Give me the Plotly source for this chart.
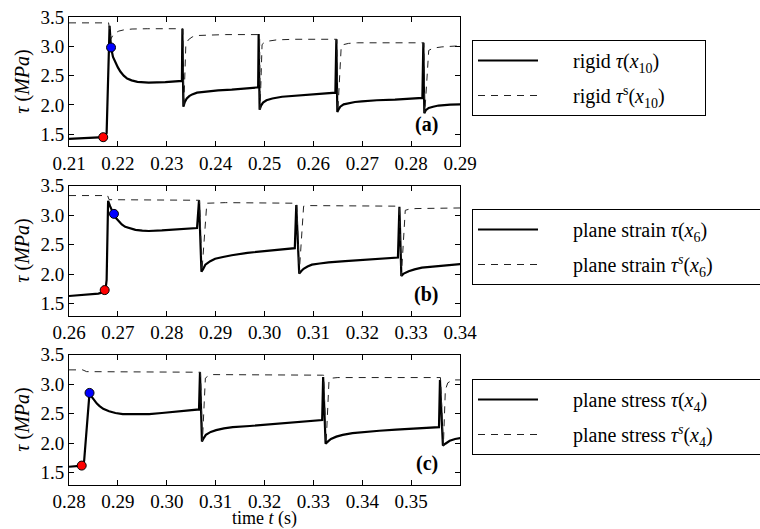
import plotly.graph_objects as go

# ---------------- data ----------------
# Panel (a): rigid, x10
t_a = [0.2100, 0.2130, 0.2160, 0.2171, 0.2177, 0.2180, 0.2182, 0.2183, 0.2185, 0.2186,
       0.2190, 0.2195, 0.2200, 0.2205, 0.2212, 0.2219, 0.2228, 0.2240, 0.2263, 0.2297,
       0.2331, 0.2332, 0.2334, 0.2337, 0.2341, 0.2346, 0.2352, 0.2362, 0.2379, 0.2405,
       0.2433, 0.2460, 0.2487, 0.2488, 0.2490, 0.2493, 0.2497, 0.2504, 0.2516, 0.2536,
       0.2577, 0.2610, 0.2645, 0.2647, 0.2649, 0.2652, 0.2655, 0.2662, 0.2672, 0.2685,
       0.2699, 0.2730, 0.2767, 0.2800, 0.2823, 0.2825, 0.2827, 0.2830, 0.2836, 0.2845,
       0.2856, 0.2880, 0.2902]
tau_a = [1.42, 1.43, 1.44, 1.45, 1.52, 2.40, 3.20, 3.35, 3.10, 2.98,
         2.82, 2.72, 2.64, 2.57, 2.50, 2.45, 2.42, 2.395, 2.38, 2.39,
         2.41, 3.30, 1.97, 2.05, 2.11, 2.15, 2.18, 2.21, 2.23, 2.25,
         2.26, 2.28, 2.30, 3.21, 1.92, 1.99, 2.04, 2.08, 2.11, 2.14,
         2.17, 2.19, 2.21, 3.12, 1.88, 1.93, 1.97, 2.01, 2.03, 2.05,
         2.06, 2.08, 2.09, 2.11, 2.12, 3.06, 1.86, 1.91, 1.95, 1.97,
         1.99, 2.005, 2.01]
t_a_s = [0.2100, 0.2181, 0.2186, 0.2190, 0.2195, 0.2202, 0.2212, 0.2229, 0.2260, 0.2331,
         0.2333, 0.2335, 0.2339, 0.2344, 0.2352, 0.2365, 0.2379, 0.2420, 0.2488,
         0.2490, 0.2491, 0.2495, 0.2500, 0.2509, 0.2525, 0.2560, 0.2646,
         0.2648, 0.2650, 0.2657, 0.2662, 0.2672, 0.2690, 0.2825,
         0.2826, 0.2828, 0.2836, 0.2845, 0.2863, 0.2902]
tau_a_s = [3.40, 3.40, 3.13, 3.19, 3.23, 3.26, 3.28, 3.295, 3.30, 3.30,
           3.30, 1.99, 3.02, 3.11, 3.16, 3.185, 3.19, 3.20, 3.20,
           3.20, 1.93, 3.03, 3.07, 3.09, 3.11, 3.12, 3.12,
           3.12, 1.89, 3.00, 3.03, 3.05, 3.06, 3.06,
           3.06, 1.87, 2.93, 2.97, 2.99, 3.01]
mark_t_a = [0.2170, 0.2186]
mark_tau_a = [1.45, 2.98]

# Panel (b): plane strain, x6
t_b = [0.2600, 0.2630, 0.2660, 0.2673, 0.2675, 0.2677, 0.2678, 0.2680, 0.2684, 0.2688,
       0.2692, 0.2697, 0.2702, 0.2708, 0.2715, 0.2725, 0.2736, 0.2750, 0.2763, 0.2790,
       0.2811, 0.2840, 0.2862, 0.2866, 0.2869, 0.2871, 0.2874, 0.2879, 0.2889, 0.2899,
       0.2915, 0.2933, 0.2965, 0.3000, 0.3030, 0.3062, 0.3065, 0.3068, 0.3071, 0.3075,
       0.3080, 0.3088, 0.3097, 0.3113, 0.3131, 0.3165, 0.3200, 0.3240, 0.3273, 0.3276,
       0.3278, 0.3280, 0.3285, 0.3295, 0.3307, 0.3322, 0.3350, 0.3375, 0.3402]
tau_b = [1.63, 1.65, 1.67, 1.70, 1.76, 1.90, 2.60, 3.24, 3.15, 3.06,
         3.00, 2.94, 2.89, 2.84, 2.80, 2.77, 2.75, 2.735, 2.73, 2.74,
         2.75, 2.76, 2.78, 3.25, 2.30, 2.04, 2.08, 2.16, 2.22, 2.26,
         2.29, 2.32, 2.36, 2.39, 2.41, 2.44, 3.17, 2.40, 2.01, 2.05,
         2.09, 2.13, 2.16, 2.18, 2.20, 2.22, 2.24, 2.26, 2.28, 3.14,
         2.40, 1.97, 2.01, 2.05, 2.08, 2.11, 2.13, 2.15, 2.17]
t_b_s = [0.2600, 0.2679, 0.2682, 0.2862, 0.2867, 0.2872, 0.2882, 0.2920, 0.3064,
         0.3066, 0.3071, 0.3080, 0.3090, 0.3274,
         0.3276, 0.3280, 0.3288, 0.3296, 0.3310, 0.3402]
tau_b_s = [3.33, 3.33, 3.26, 3.25, 3.25, 2.05, 3.20, 3.21, 3.20,
           3.20, 2.01, 3.15, 3.16, 3.15,
           3.15, 1.97, 3.08, 3.10, 3.11, 3.12]
mark_t_b = [0.2673, 0.2692]
mark_tau_b = [1.73, 3.02]

# Panel (c): plane stress, x4
t_c = [0.2800, 0.2815, 0.2827, 0.2831, 0.2836, 0.2840, 0.2842, 0.2847, 0.2852, 0.2857,
       0.2862, 0.2870, 0.2882, 0.2895, 0.2910, 0.2940, 0.2964, 0.2990, 0.3019, 0.3045,
       0.3066, 0.3068, 0.3070, 0.3072, 0.3076, 0.3080, 0.3090, 0.3101, 0.3117, 0.3135,
       0.3170, 0.3201, 0.3235, 0.3265, 0.3300, 0.3318, 0.3320, 0.3323, 0.3325, 0.3330,
       0.3336, 0.3347, 0.3360, 0.3380, 0.3401, 0.3435, 0.3469, 0.3510, 0.3557, 0.3559,
       0.3562, 0.3565, 0.3570, 0.3579, 0.3590, 0.3604]
tau_c = [1.60, 1.61, 1.62, 1.70, 2.30, 2.77, 2.85, 2.78, 2.72, 2.67,
         2.63, 2.58, 2.54, 2.51, 2.49, 2.485, 2.49, 2.51, 2.53, 2.55,
         2.57, 3.20, 2.50, 2.03, 2.09, 2.14, 2.19, 2.22, 2.25, 2.27,
         2.29, 2.31, 2.33, 2.35, 2.37, 2.39, 3.12, 2.40, 1.99, 2.03,
         2.07, 2.11, 2.14, 2.17, 2.19, 2.21, 2.23, 2.25, 2.27, 3.07,
         2.40, 1.96, 1.99, 2.04, 2.07, 2.09]
t_c_s = [0.2800, 0.2828, 0.2836, 0.3066, 0.3069, 0.3073, 0.3079, 0.3085, 0.3095, 0.3318,
         0.3321, 0.3326, 0.3332, 0.3338, 0.3350, 0.3557,
         0.3560, 0.3566, 0.3570, 0.3575, 0.3585, 0.3604]
tau_c_s = [3.24, 3.24, 3.21, 3.20, 3.20, 2.03, 3.10, 3.14, 3.16, 3.15,
           3.15, 1.99, 3.06, 3.10, 3.11, 3.11,
           3.11, 1.96, 2.90, 3.02, 3.07, 3.07]
mark_t_c = [0.2826, 0.2842]
mark_tau_c = [1.62, 2.85]

mark_colors = ["#ff0000", "#0000ff"]

SP = "&nbsp;" * 6
names_solid = [SP + "rigid <i>τ</i>(<i>x</i><sub>10</sub>)" + "&nbsp;" * 8,
               SP + "plane strain <i>τ</i>(<i>x</i><sub>6</sub>)" + "&nbsp;" * 14,
               SP + "plane stress <i>τ</i>(<i>x</i><sub>4</sub>)" + "&nbsp;" * 14]
names_dash = [SP + "rigid <i>τ</i><sup>s</sup>(<i>x</i><sub>10</sub>)",
              SP + "plane strain <i>τ<sup>s</sup></i>(<i>x</i><sub>6</sub>)",
              SP + "plane stress <i>τ<sup>s</sup></i>(<i>x</i><sub>4</sub>)"]
panel_labels = ["<b>(a)</b>", "<b>(b)</b>", "<b>(c)</b>"]
x_ranges = [[0.21, 0.29], [0.26, 0.34], [0.28, 0.36]]
x_ticks = [[0.21, 0.22, 0.23, 0.24, 0.25, 0.26, 0.27, 0.28, 0.29],
           [0.26, 0.27, 0.28, 0.29, 0.30, 0.31, 0.32, 0.33, 0.34],
           [0.28, 0.29, 0.30, 0.31, 0.32, 0.33, 0.34, 0.35]]
y_ticks = [1.5, 2.0, 2.5, 3.0, 3.5]

# ---------------- layout geometry ----------------
W, H = 760, 529
FONT = "Liberation Serif, DejaVu Serif, Times New Roman, serif"
x_dom = [69 / W, 460 / W]
panel_px = [(17, 146), (185.5, 315.5), (354.5, 484.5)]  # top, bottom in px
legend_top = [40, 209, 379]

fig = go.Figure()
data = [(t_a, tau_a, t_a_s, tau_a_s, mark_t_a, mark_tau_a),
        (t_b, tau_b, t_b_s, tau_b_s, mark_t_b, mark_tau_b),
        (t_c, tau_c, t_c_s, tau_c_s, mark_t_c, mark_tau_c)]

for i, (ts, vs, tss, vss, mt, mv) in enumerate(data):
    xa = "x" if i == 0 else f"x{i+1}"
    ya = "y" if i == 0 else f"y{i+1}"
    lg = "legend" if i == 0 else f"legend{i+1}"
    fig.add_trace(go.Scatter(x=ts, y=vs, mode="lines", name=names_solid[i],
                             line=dict(color="black", width=2.2),
                             xaxis=xa, yaxis=ya, legend=lg, legendgroup=f"s{i}"))
    fig.add_trace(go.Scatter(x=tss, y=vss, mode="lines", name=names_dash[i],
                             line=dict(color="#222222", width=1, dash="7px,6px"),
                             xaxis=xa, yaxis=ya, legend=lg, legendgroup=f"d{i}"))
    fig.add_trace(go.Scatter(x=mt, y=mv, mode="markers", showlegend=False,
                             marker=dict(color=mark_colors, size=9,
                                         line=dict(color="black", width=1)),
                             xaxis=xa, yaxis=ya))

axis_common = dict(showline=True, linecolor="black", linewidth=1, mirror="ticks",
                   ticks="inside", ticklen=5, tickcolor="black", tickwidth=1,
                   showgrid=False, zeroline=False, automargin=False,
                   tickfont=dict(family=FONT, size=19, color="black"))

layout = dict(width=W, height=H,
              margin=dict(l=0, r=0, t=0, b=0, pad=0, autoexpand=False),
              plot_bgcolor="white", paper_bgcolor="white",
              font=dict(family=FONT, size=18, color="black"),
              annotations=[])

for i in range(3):
    top, bot = panel_px[i]
    ydom = [1 - bot / H, 1 - top / H]
    xk = "xaxis" if i == 0 else f"xaxis{i+1}"
    yk = "yaxis" if i == 0 else f"yaxis{i+1}"
    ya = "y" if i == 0 else f"y{i+1}"
    xa = "x" if i == 0 else f"x{i+1}"
    xd = dict(axis_common, domain=x_dom, range=x_ranges[i], anchor=ya,
              tickvals=x_ticks[i], tickformat=".2f", tickangle=0)
    if i == 2:
        xd["title"] = dict(text="time <i>t</i> (s)", font=dict(family=FONT, size=18),
                           standoff=10)
    layout[xk] = xd
    layout[yk] = dict(axis_common, domain=ydom, range=[1.3, 3.5], anchor=xa,
                      tickvals=y_ticks, tickformat=".1f",
                      title=dict(text="<i>τ</i> (<i>MPa</i>)",
                                 font=dict(family=FONT, size=20), standoff=5))
    lk = "legend" if i == 0 else f"legend{i+1}"
    layout[lk] = dict(x=472 / W, y=1 - legend_top[i] / H, xanchor="left", yanchor="top",
                      xref="paper", yref="paper",
                      bordercolor="black", borderwidth=1, bgcolor="white",
                      font=dict(family=FONT, size=20, color="black"),
                      itemwidth=60, tracegroupgap=6, traceorder="grouped")
    layout["annotations"].append(dict(
        text=panel_labels[i], xref="paper", yref="paper",
        x=440 / W, y=1 - (bot - 8) / H, xanchor="right", yanchor="bottom",
        showarrow=False, font=dict(family=FONT, size=20, color="black")))

fig.update_layout(**layout)
fig.write_html("out.html")
